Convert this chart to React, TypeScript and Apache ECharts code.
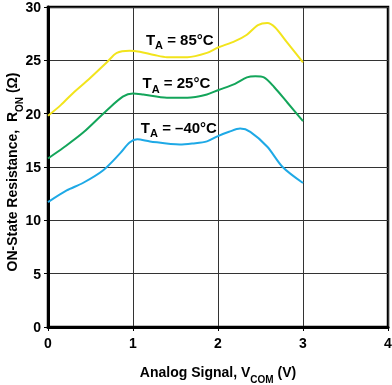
import React, { useEffect, useRef } from "react";
import * as echarts from "echarts";

const xTicks = [0, 1, 2, 3, 4];
const yTicks = [0, 5, 10, 15, 20, 25, 30];

const series85: [number, number][] = [
  [0, 19.8], [0.15, 20.8], [0.29, 21.9], [0.49, 23.3], [0.69, 24.8], [0.81, 25.7],
  [0.96, 25.9], [1.08, 25.8], [1.25, 25.5], [1.4, 25.3], [1.64, 25.3], [1.87, 25.7],
  [2.0, 26.2], [2.2, 26.8], [2.34, 27.4], [2.47, 28.3], [2.58, 28.5], [2.67, 28.1],
  [2.81, 26.7], [3.0, 24.8],
];
const series25: [number, number][] = [
  [0, 15.8], [0.18, 16.8], [0.41, 18.2], [0.69, 20.3], [0.88, 21.6], [1.0, 21.9],
  [1.12, 21.8], [1.4, 21.5], [1.64, 21.5], [1.87, 21.8], [2.0, 22.2], [2.2, 22.8],
  [2.34, 23.4], [2.44, 23.5], [2.54, 23.4], [2.66, 22.5], [2.82, 21.0], [3.0, 19.3],
];
const seriesM40: [number, number][] = [
  [0, 11.7], [0.22, 12.8], [0.41, 13.5], [0.65, 14.7], [0.85, 16.3], [0.96, 17.3],
  [1.05, 17.6], [1.2, 17.4], [1.55, 17.1], [1.7, 17.2], [1.87, 17.4], [2.0, 17.9],
  [2.13, 18.3], [2.26, 18.6], [2.38, 18.3], [2.58, 16.9], [2.76, 15.0], [3.0, 13.5],
];

const labels = [
  { text: "{t|T}{s|A}{t| = 85°C}", coord: [1.55, 27.1] },
  { text: "{t|T}{s|A}{t| = 25°C}", coord: [1.51, 23.05] },
  { text: "{t|T}{s|A}{t| = –40°C}", coord: [1.54, 18.85] },
];

const colors = ["#f2e41c", "#13a55a", "#1ea9e6"];
const FONT = "Liberation Sans, Arial, sans-serif";

export default function App() {
  const ref = useRef<HTMLDivElement>(null);
  useEffect(() => {
    if (!ref.current) return;
    const chart = echarts.init(ref.current, undefined, { renderer: "svg" });
    const richLabel = {
      t: { fontSize: 15, fontWeight: "bold", fontFamily: FONT, color: "#000", lineHeight: 18, verticalAlign: "bottom" },
      s: { fontSize: 11, fontWeight: "bold", fontFamily: FONT, color: "#000", lineHeight: 18, verticalAlign: "bottom", padding: [0, 0, -4, 0] },
    };
    const data = [series85, series25, seriesM40];
    chart.setOption({
      animation: false,
      grid: {
        left: 48, right: 4, top: 7, bottom: 58,
        outerBoundsMode: "none",
        containLabel: false,
        show: true, borderColor: "#000", borderWidth: 2.5, backgroundColor: "#fff",
      },
      xAxis: {
        type: "value", min: 0, max: 4, interval: 1,
        name: "Analog Signal, V{s|COM} (V)",
        nameLocation: "middle", nameGap: 38, nameMoveOverlap: false,
        nameTextStyle: {
          fontSize: 14, fontWeight: "bold", fontFamily: FONT, color: "#000",
          rich: {
            s: { fontSize: 10, fontWeight: "bold", fontFamily: FONT, color: "#000", verticalAlign: "bottom", padding: [0, 0, -5, 0] },
          },
        },
        axisLine: { show: true, lineStyle: { color: "#000", width: 3 } },
        axisTick: { show: true, inside: false, length: 4, lineStyle: { color: "#000" } },
        axisLabel: { fontSize: 14, fontWeight: "bold", fontFamily: FONT, color: "#000", margin: 9,
          formatter: (v: number) => (xTicks.includes(v) ? String(v) : "") },
        splitLine: { show: true, lineStyle: { color: "#333", width: 1 } },
      },
      yAxis: {
        type: "value", min: 0, max: 30, interval: 5,
        name: "ON-State Resistance,  R{s|ON} (Ω)",
        nameLocation: "middle", nameGap: 29, nameRotate: 90, nameMoveOverlap: false,
        nameTextStyle: {
          fontSize: 14, fontWeight: "bold", fontFamily: FONT, color: "#000",
          padding: [0, 10, 0, 0],
          rich: {
            s: { fontSize: 10, fontWeight: "bold", fontFamily: FONT, color: "#000", verticalAlign: "bottom", padding: [0, 0, -5, 0] },
          },
        },
        axisLine: { show: true, lineStyle: { color: "#000", width: 3 } },
        axisTick: { show: true, inside: false, length: 4, lineStyle: { color: "#000" } },
        axisLabel: { fontSize: 14, fontWeight: "bold", fontFamily: FONT, color: "#000", margin: 7,
          formatter: (v: number) => (yTicks.includes(v) ? String(v) : "") },
        splitLine: { show: true, lineStyle: { color: "#333", width: 1 } },
      },
      series: data.map((d, i) => ({
        type: "line",
        data: d,
        smooth: 0.3,
        showSymbol: false,
        lineStyle: { color: colors[i], width: 2 },
        itemStyle: { color: colors[i] },
        markPoint: {
          symbol: "circle", symbolSize: 0,
          label: { show: true, position: "inside", formatter: labels[i].text, rich: richLabel },
          data: [{ coord: labels[i].coord, value: 0 }],
        },
      })),
    });
    return () => chart.dispose();
  }, []);
  return <div ref={ref} style={{ position: "fixed", left: 0, top: 0, width: 392, height: 385 }} />;
}
